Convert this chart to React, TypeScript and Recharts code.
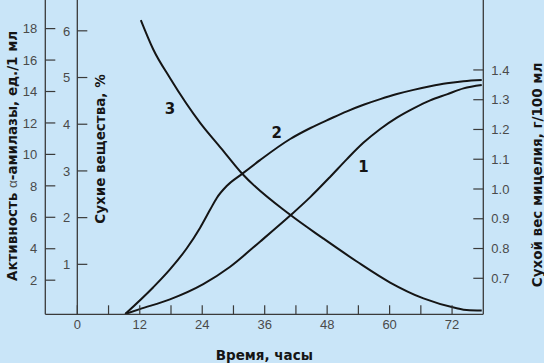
import React from 'react';
import { LineChart, Line, XAxis, YAxis, ReferenceLine, ReferenceDot } from 'recharts';

// curve 1: alpha-amylase activity (left axis)
const hours1 = [9.2, 12, 17.8, 24.2, 29.3, 35.1, 40.9, 44.8, 48.6, 51.8, 55.0, 58.2, 61.4, 64.6, 67.8, 71.0, 74.2, 77.7];
const activity = [-0.15, 0.16, 0.78, 1.75, 2.84, 4.45, 6.11, 7.3, 8.58, 9.7, 10.75, 11.62, 12.34, 12.93, 13.44, 13.82, 14.2, 14.41];

// curve 2: dry mycelium weight (right axis)
const hours2 = [9.2, 14.6, 17.8, 21.0, 23.6, 25.5, 26.8, 28.7, 31.6, 35.1, 40.9, 44.8, 48.6, 51.8, 55.0, 58.2, 61.4, 64.6, 67.8, 71.0, 74.2, 77.7];
const mycelium = [0.58, 0.67, 0.73, 0.8, 0.87, 0.93, 0.97, 1.01, 1.05, 1.097, 1.168, 1.205, 1.236, 1.261, 1.283, 1.302, 1.319, 1.333, 1.345, 1.355, 1.362, 1.366];

// curve 3: dry substances, % (second left axis at t = 0)
const hours3 = [12.2, 14.6, 17.8, 23.6, 27.6, 31.6, 40.9, 47.3, 53.7, 60.1, 66.5, 72.9, 74.8, 77.7];
const solids = [6.23, 5.6, 4.99, 4.03, 3.49, 2.95, 2.06, 1.55, 1.06, 0.61, 0.27, 0.06, 0.02, 0.01];

const hourTicks = [0, 6, 12, 18, 24, 30, 36, 42, 48, 54, 60, 66, 72];
const activityTicks = [2, 4, 6, 8, 10, 12, 14, 16, 18];
const solidsTicks = [1, 2, 3, 4, 5, 6];
const myceliumTicks = [0.7, 0.8, 0.9, 1.0, 1.1, 1.2, 1.3, 1.4];

// curve numbers: [label, hour, activity-axis value]
const curveLabels: [string, number, number][] = [
  ['3', 17.8, 12.9],
  ['2', 38.3, 11.4],
  ['1', 55.0, 9.2],
];

const data1 = hours1.map((h, i) => ({ h, v: activity[i] }));
const data2 = hours2.map((h, i) => ({ h, v: mycelium[i] }));
const data3 = hours3.map((h, i) => ({ h, v: solids[i] }));

const BG = '#C9E5F8';
const AXIS = '#3a3a3a';
const TICK = '#4a4a4a';
const INK = '#151515';
const FONT = '"Liberation Sans", Arial, sans-serif';
const BOLD_FONT = '"DejaVu Sans", Verdana, sans-serif';

const XTick = (props: any) => {
  const { x, y, payload } = props;
  const v = payload.value;
  return (
    <g>
      <line x1={x} y1={y} x2={x} y2={y - 9} stroke={AXIS} strokeWidth={1.2} />
      {v % 12 === 0 && (
        <text x={x} y={y + 15} textAnchor="middle" fill={TICK} fontSize={13} fontFamily={FONT}>
          {v}
        </text>
      )}
    </g>
  );
};

const LeftTick = (props: any) => {
  const { x, y, payload } = props;
  return (
    <g>
      <line x1={x} y1={y} x2={x + 10} y2={y} stroke={AXIS} strokeWidth={1.2} />
      <text x={x - 8} y={y} dy="0.36em" textAnchor="end" fill={TICK} fontSize={13} fontFamily={FONT}>
        {payload.value}
      </text>
    </g>
  );
};

const RightTick = (props: any) => {
  const { x, y, payload } = props;
  return (
    <g>
      <line x1={x - 10} y1={y} x2={x} y2={y} stroke={AXIS} strokeWidth={1.2} />
      <text x={x + 8} y={y} dy="0.36em" textAnchor="start" fill={TICK} fontSize={13} fontFamily={FONT}>
        {Number(payload.value).toFixed(1)}
      </text>
    </g>
  );
};

const titleStyle = { fontSize: 13.5, fontWeight: 700, fill: INK, fontFamily: BOLD_FONT };

export default function App() {
  return (
    <div style={{ position: 'absolute', left: 0, top: 0, width: 544, height: 363, background: BG }}>
      <LineChart width={544} height={363} margin={{ top: 0, right: 0, bottom: 0, left: 0 }}>
        <XAxis
          dataKey="h"
          type="number"
          domain={[-6.15, 78]}
          allowDataOverflow
          ticks={hourTicks}
          interval={0}
          height={48.7}
          tickLine={false}
          tickSize={0}
          tickMargin={0}
          tick={<XTick />}
          axisLine={{ stroke: AXIS, strokeWidth: 1.3 }}
          label={{
            content: (p: any) => (
              <text
                x={p.viewBox.x + p.viewBox.width / 2}
                y={p.viewBox.y + 45.5}
                textAnchor="middle"
                style={titleStyle}
              >
                Время, часы
              </text>
            ),
          }}
        />
        <YAxis
          yAxisId="act"
          orientation="left"
          width={45.3}
          type="number"
          domain={[-0.17, 19.82]}
          allowDataOverflow
          ticks={activityTicks}
          interval={0}
          tickLine={false}
          tickSize={0}
          tickMargin={0}
          tick={<LeftTick />}
          axisLine={{ stroke: AXIS, strokeWidth: 1.3 }}
          label={{
            content: (p: any) => (
              <text
                transform={`translate(${p.viewBox.x + 12},${p.viewBox.y + 156}) rotate(-90)`}
                textAnchor="middle"
                dominantBaseline="central"
                style={titleStyle}
              >
                Активность <tspan fontWeight={400} fill="#555" fontFamily={FONT}>α</tspan>-амилазы, ед./1 мл
              </text>
            ),
          }}
        />
        <YAxis yAxisId="pct" hide type="number" domain={[-0.07, 6.66]} allowDataOverflow />
        <YAxis
          yAxisId="dm"
          orientation="right"
          width={60.7}
          type="number"
          domain={[0.579, 1.635]}
          allowDataOverflow
          ticks={myceliumTicks}
          interval={0}
          tickLine={false}
          tickSize={0}
          tickMargin={0}
          tick={<RightTick />}
          axisLine={{ stroke: AXIS, strokeWidth: 1.3 }}
          label={{
            content: (p: any) => (
              <text
                transform={`translate(${p.viewBox.x + 53.4},${p.viewBox.y + 175}) rotate(-90)`}
                textAnchor="middle"
                dominantBaseline="central"
                style={titleStyle}
              >
                Сухой вес мицелия, г/100 мл
              </text>
            ),
          }}
        />

        <ReferenceLine
          x={0}
          yAxisId="pct"
          stroke={AXIS}
          strokeWidth={1.3}
          label={{
            content: (p: any) => (
              <text
                transform={`translate(${p.viewBox.x + 23},${p.viewBox.y + 149}) rotate(-90)`}
                textAnchor="middle"
                dominantBaseline="central"
                style={titleStyle}
              >
                Сухие вещества, %
              </text>
            ),
          }}
        />
        {solidsTicks.map((v) => (
          <ReferenceDot
            key={'p' + v}
            x={0}
            y={v}
            yAxisId="pct"
            r={0}
            shape={(p: any) => (
              <g>
                <line x1={p.cx} y1={p.cy} x2={p.cx + 10} y2={p.cy} stroke={AXIS} strokeWidth={1.2} />
                <text x={p.cx - 7} y={p.cy} dy="0.36em" textAnchor="end" fill={TICK} fontSize={13} fontFamily={FONT}>
                  {v}
                </text>
              </g>
            )}
          />
        ))}

        <Line yAxisId="act" data={data1} dataKey="v" type="monotone" stroke={INK} strokeWidth={2} dot={false} isAnimationActive={false} />
        <Line yAxisId="dm" data={data2} dataKey="v" type="monotone" stroke={INK} strokeWidth={2} dot={false} isAnimationActive={false} />
        <Line yAxisId="pct" data={data3} dataKey="v" type="monotone" stroke={INK} strokeWidth={2} dot={false} isAnimationActive={false} />

        {curveLabels.map(([t, h, v]) => (
          <ReferenceDot
            key={'c' + t}
            x={h}
            y={v}
            yAxisId="act"
            r={0}
            shape={(p: any) => (
              <text x={p.cx} y={p.cy} dy="0.36em" textAnchor="middle" style={{ ...titleStyle, fontSize: 15 }}>
                {t}
              </text>
            )}
          />
        ))}
      </LineChart>
    </div>
  );
}
